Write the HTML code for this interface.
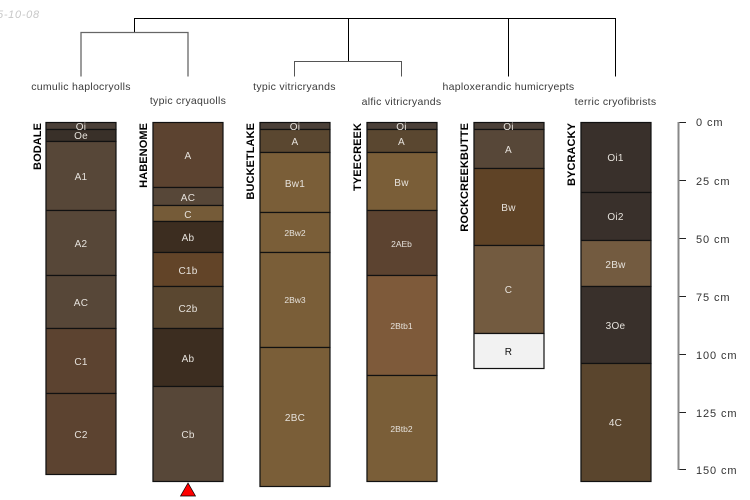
<!DOCTYPE html>
<html>
<head>
<meta charset="utf-8">
<style>
html,body{margin:0;padding:0;background:#fff;width:750px;height:500px;overflow:hidden}
svg{display:block;font-family:"Liberation Sans",sans-serif}
.h rect{stroke:#111;stroke-width:1.200}
.l text{font-size:10px;letter-spacing:.25px;fill:#e6e2dc;text-anchor:middle}
.s text{font-size:8.500px;fill:#e6e2dc;text-anchor:middle}
.t text{font-size:10.500px;letter-spacing:.28px;fill:#3a3a3a;text-anchor:middle}
.n text{font-size:11px;letter-spacing:.08px;font-weight:bold;fill:#000;text-anchor:end}
.a text{font-size:11px;letter-spacing:.9px;fill:#333}
</style>
</head>
<body>
<svg width="750" height="500" viewBox="0 0 750 500" xmlns="http://www.w3.org/2000/svg">
<text x="-3" y="18" font-size="11" letter-spacing=".7" font-style="italic" fill="#c8c8c8">5-10-08</text>

<g fill="none" stroke="#000" stroke-width="1">
<path d="M134.500 32V18.500H615.500V76.500"/>
<path d="M348.500 18.500V61.500"/>
<path d="M508.500 18.500V76.500"/>
</g>
<g fill="none" stroke="#555" stroke-width="1">
<path d="M81 76.500V32.500H188V76.500" stroke="#666" stroke-width="1.300"/>
<path d="M294.500 76.500V61.500H401.500V76.500"/>
</g>

<g class="t">
<text x="81" y="90">cumulic haplocryolls</text>
<text x="188" y="104">typic cryaquolls</text>
<text x="294.500" y="90">typic vitricryands</text>
<text x="401.500" y="105">alfic vitricryands</text>
<text x="508.500" y="90">haploxerandic humicryepts</text>
<text x="615.500" y="105">terric cryofibrists</text>
</g>

<g class="n">
<text transform="translate(41,123) rotate(-90)">BODALE</text>
<text transform="translate(147,123) rotate(-90)">HABENOME</text>
<text transform="translate(254,123) rotate(-90)">BUCKETLAKE</text>
<text transform="translate(361,123) rotate(-90)">TYEECREEK</text>
<text transform="translate(468,123) rotate(-90)">ROCKCREEKBUTTE</text>
<text transform="translate(575,123) rotate(-90)">BYCRACKY</text>
</g>

<g class="h">
<rect x="46" y="122.500" width="70" height="7" fill="#4b4038"/>
<rect x="46" y="129.500" width="70" height="12" fill="#393029"/>
<rect x="46" y="141.500" width="70" height="69" fill="#574738"/>
<rect x="46" y="210.500" width="70" height="65" fill="#574738"/>
<rect x="46" y="275.500" width="70" height="53" fill="#574738"/>
<rect x="46" y="328.500" width="70" height="65" fill="#5c4330"/>
<rect x="46" y="393.500" width="70" height="81" fill="#5c4330"/>

<rect x="153" y="122.500" width="70" height="65" fill="#5c4330"/>
<rect x="153" y="187.500" width="70" height="18" fill="#574738"/>
<rect x="153" y="205.500" width="70" height="16" fill="#755b38"/>
<rect x="153" y="221.500" width="70" height="31" fill="#3c2d20"/>
<rect x="153" y="252.500" width="70" height="34" fill="#624428"/>
<rect x="153" y="286.500" width="70" height="42" fill="#5a4730"/>
<rect x="153" y="328.500" width="70" height="58" fill="#3c2d20"/>
<rect x="153" y="386.500" width="70" height="95" fill="#574738"/>

<rect x="260" y="122.500" width="70" height="7" fill="#4b4038"/>
<rect x="260" y="129.500" width="70" height="23" fill="#5a4730"/>
<rect x="260" y="152.500" width="70" height="60" fill="#7a5e38"/>
<rect x="260" y="212.500" width="70" height="40" fill="#7a5e38"/>
<rect x="260" y="252.500" width="70" height="95" fill="#7a5e38"/>
<rect x="260" y="347.500" width="70" height="139" fill="#7a5e38"/>

<rect x="367" y="122.500" width="70" height="7" fill="#4b4038"/>
<rect x="367" y="129.500" width="70" height="23" fill="#5a4730"/>
<rect x="367" y="152.500" width="70" height="58" fill="#7a5e38"/>
<rect x="367" y="210.500" width="70" height="65" fill="#5c4330"/>
<rect x="367" y="275.500" width="70" height="100" fill="#7e5a3a"/>
<rect x="367" y="375.500" width="70" height="106" fill="#7a5e38"/>

<rect x="474" y="122.500" width="70" height="7" fill="#4b4038"/>
<rect x="474" y="129.500" width="70" height="39" fill="#574738"/>
<rect x="474" y="168.500" width="70" height="77" fill="#5f4326"/>
<rect x="474" y="245.500" width="70" height="88" fill="#735b40"/>
<rect x="474" y="333.500" width="70" height="35" fill="#f2f2f2"/>

<rect x="581" y="122.500" width="70" height="70" fill="#39302b"/>
<rect x="581" y="192.500" width="70" height="48" fill="#39302b"/>
<rect x="581" y="240.500" width="70" height="46" fill="#735b40"/>
<rect x="581" y="286.500" width="70" height="77" fill="#39302b"/>
<rect x="581" y="363.500" width="70" height="118" fill="#5a452d"/>
</g>

<g fill="none" stroke="#666" stroke-width="1">
<path d="M45.500 122V475M152.500 122V482M259.500 122V487M366.500 122V482M473.500 122V369M580.500 122V482"/>
</g>

<g class="l">
<text x="81" y="130">Oi</text>
<text x="81" y="139">Oe</text>
<text x="81" y="180">A1</text>
<text x="81" y="247">A2</text>
<text x="81" y="306">AC</text>
<text x="81" y="365">C1</text>
<text x="81" y="438">C2</text>

<text x="188" y="159">A</text>
<text x="188" y="201">AC</text>
<text x="188" y="218">C</text>
<text x="188" y="241">Ab</text>
<text x="188" y="274">C1b</text>
<text x="188" y="312">C2b</text>
<text x="188" y="362">Ab</text>
<text x="188" y="438">Cb</text>

<text x="295" y="130">Oi</text>
<text x="295" y="145">A</text>
<text x="295" y="187">Bw1</text>
<text x="295" y="421">2BC</text>

<text x="401.500" y="130">Oi</text>
<text x="401.500" y="145">A</text>
<text x="401.500" y="186">Bw</text>

<text x="508.500" y="130">Oi</text>
<text x="508.500" y="153">A</text>
<text x="508.500" y="211">Bw</text>
<text x="508.500" y="293">C</text>
<text x="508.500" y="355" style="fill:#111">R</text>

<text x="615.500" y="161">Oi1</text>
<text x="615.500" y="220">Oi2</text>
<text x="615.500" y="268">2Bw</text>
<text x="615.500" y="329">3Oe</text>
<text x="615.500" y="426">4C</text>
</g>
<g class="s">
<text x="295" y="236">2Bw2</text>
<text x="295" y="303">2Bw3</text>
<text x="401.500" y="247">2AEb</text>
<text x="401.500" y="329">2Btb1</text>
<text x="401.500" y="432">2Btb2</text>
</g>

<polygon points="188,483 180.500,496 195.500,496" fill="#ff0000" stroke="#000" stroke-width="0.700"/>

<path d="M678 122.500H686M678 180.500H686M678 238.500H686M678 296.500H686M678 354.500H686M678 412.500H686M678 469.500H686" fill="none" stroke="#222" stroke-width="1"/>
<path d="M678.500 122V470" fill="none" stroke="#888" stroke-width="2"/>
<g class="a">
<text x="696" y="126">0 cm</text>
<text x="696" y="185">25 cm</text>
<text x="696" y="243">50 cm</text>
<text x="696" y="301">75 cm</text>
<text x="696" y="359">100 cm</text>
<text x="696" y="417">125 cm</text>
<text x="696" y="474">150 cm</text>
</g>
</svg>
</body>
</html>
